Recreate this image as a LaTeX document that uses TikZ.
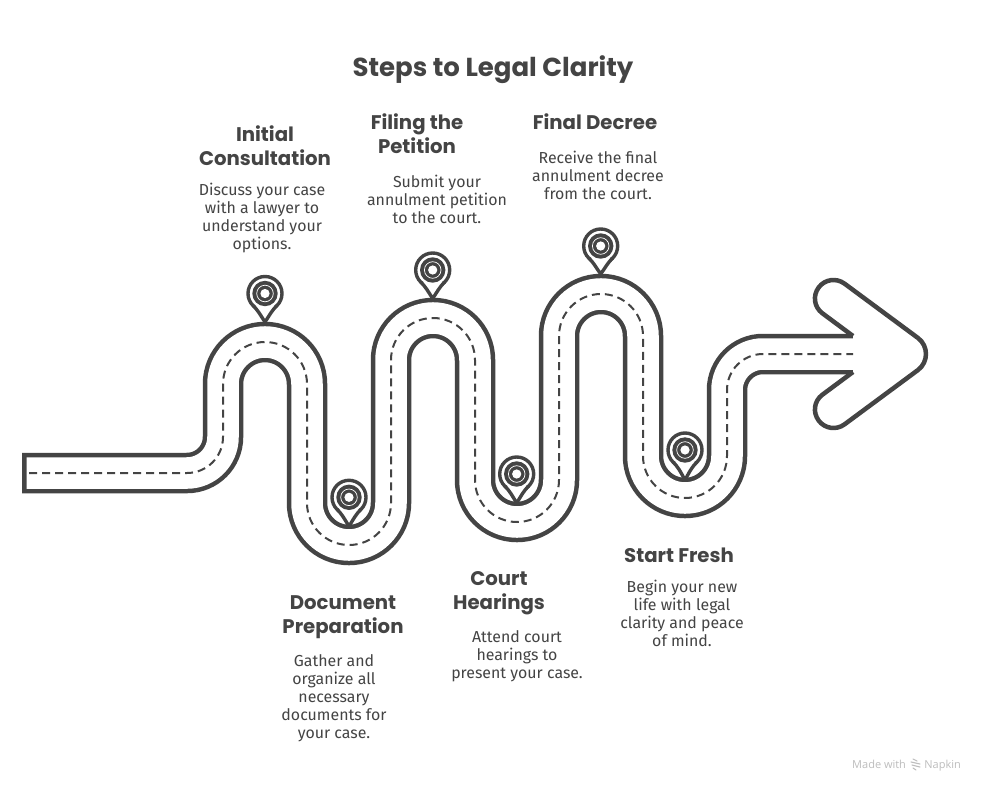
\documentclass[tikz,border=0pt]{standalone}
\usepackage{fontspec}
\setmainfont{Fira Sans}
\newfontfamily\headfont{Poppins}
\newfontfamily\markfont{Open Sans}
\definecolor{ink}{HTML}{444444}
\definecolor{faint}{HTML}{BDBDBD}
\tikzset{
  heading/.style={text=ink,align=center,inner sep=0pt,font=\headfont\bfseries\fontsize{19.7}{24}\selectfont},
  body/.style={text=ink,align=center,inner sep=0pt,font=\fontsize{15.9}{18}\selectfont},
  titletext/.style={text=ink,inner sep=0pt,font=\headfont\bfseries\fontsize{26}{30}\selectfont},
  markgray/.style={text=faint,inner sep=0pt,font=\markfont\fontsize{11}{13}\selectfont},
  outline/.style={draw=ink,line width=4.5pt,line join=round},
}
\newcommand{\pinmark}[3]{%
  \begin{scope}[shift={(#1,#2)}]
    \draw[draw=ink,line width=3.4pt] (0,0) circle[radius=17pt];
    \fill[white] (-12,12) .. controls (-6.5,17.5) and (-5,21) .. (0,#3) .. controls (5,21) and (6.5,17.5) .. (12,12) -- cycle;
    \draw[draw=ink,line width=3.4pt,line join=round] (-12,12) .. controls (-6.5,17.5) and (-5,21) .. (0,#3) .. controls (5,21) and (6.5,17.5) .. (12,12);
    \fill[ink] (0,0) circle[radius=12.7pt];
    \draw[white,line width=0.7pt] (0,0) circle[radius=8.3pt];
    \fill[white] (0,0) circle[radius=4.6pt];
  \end{scope}}
\begin{document}
\begin{tikzpicture}[x=1pt,y=-1pt]
\useasboundingbox (0,0) rectangle (985,792);
\fill[white] (0,0) rectangle (985,792);
% road
\draw[ink,line width=40.5pt] [rounded corners=36pt] (22,473) -- (223,473) [rounded corners=42pt] -- (223,342) -- (307,342) -- (307,545) -- (391,545) -- (391,318) -- (475,318) -- (475,522) -- (559,522) -- (559,294) -- (643,294) -- (643,498) -- (727,498) [rounded corners=36pt] -- (727,354) -- (853,354);
\draw[white,line width=31.5pt] [rounded corners=36pt] (26.5,473) -- (223,473) [rounded corners=42pt] -- (223,342) -- (307,342) -- (307,545) -- (391,545) -- (391,318) -- (475,318) -- (475,522) -- (559,522) -- (559,294) -- (643,294) -- (643,498) -- (727,498) [rounded corners=36pt] -- (727,354) -- (853,354);
% arrow head
\fill[white] (853,336) -- (822,313) .. controls (814,306.7) and (812.6,295.6) .. (818.7,287.4) .. controls (824.8,279.2) and (836.4,277.6) .. (844.6,283.7) -- (918,338) .. controls (928.6,346) and (928.6,362) .. (918,370) -- (844.6,424.3) .. controls (836.4,430.4) and (824.8,428.8) .. (818.7,420.6) .. controls (812.6,412.4) and (814,401.3) .. (822,395) -- (853,372) -- cycle;
\draw[outline] (853,336) -- (822,313) .. controls (814,306.7) and (812.6,295.6) .. (818.7,287.4) .. controls (824.8,279.2) and (836.4,277.6) .. (844.6,283.7) -- (918,338) .. controls (928.6,346) and (928.6,362) .. (918,370) -- (844.6,424.3) .. controls (836.4,430.4) and (824.8,428.8) .. (818.7,420.6) .. controls (812.6,412.4) and (814,401.3) .. (822,395) -- (853,372);
% centre dashes
\draw[ink,line width=2pt,dash pattern=on 8pt off 5pt] [rounded corners=36pt] (29,473) -- (223,473) [rounded corners=42pt] -- (223,342) -- (307,342) -- (307,545) -- (391,545) -- (391,318) -- (475,318) -- (475,522) -- (559,522) -- (559,294) -- (643,294) -- (643,498) -- (727,498) [rounded corners=36pt] -- (727,354) -- (853,354);
% pins
\pinmark{265}{293.5}{28.5}
\pinmark{432.7}{270}{28.5}
\pinmark{600.7}{246}{28}
\pinmark{349}{497.3}{29}
\pinmark{516.7}{474}{29}
\pinmark{685}{450}{30}
% texts
\node[titletext] (title) at (493,70) {Steps to Legal Clarity};
\node[heading] (h1) at (265,146) {Initial\\Consultation};
\node[body] (b1) at (262,218) {Discuss your case\\with a lawyer to\\understand your\\options.};
\node[heading] (h2) at (417,134) {Filing the\\Petition};
\node[body] (b2) at (437,199) {Submit your\\annulment petition\\to the court.};
\node[heading] (h3) at (595,122) {Final Decree};
\node[body] (b3) at (598,175) {Receive the final\\annulment decree\\from the court.};
\node[heading] (h4) at (343,617) {Document\\Preparation};
\node[body] (b4) at (334,698) {Gather and\\organize all\\necessary\\documents for\\your case.};
\node[heading] (h5) at (499,593) {Court\\Hearings};
\node[body] (b5) at (517,656) {Attend court\\hearings to\\present your case.};
\node[heading] (h6) at (679,555) {Start Fresh};
\node[body] (b6) at (682,613) {Begin your new\\life with legal\\clarity and peace\\of mind.};
% footer
\node[markgray,anchor=base west] (m1) at (852,768) {Made with};
\node[markgray,anchor=base east] (m2) at (961,768) {Napkin};
\draw[faint,line width=1.1pt,line cap=round] (913,759) -- (917,761) (911,762) -- (920,764) (912,765) -- (920,767) (913,768) -- (916,770);
\end{tikzpicture}
\end{document}
